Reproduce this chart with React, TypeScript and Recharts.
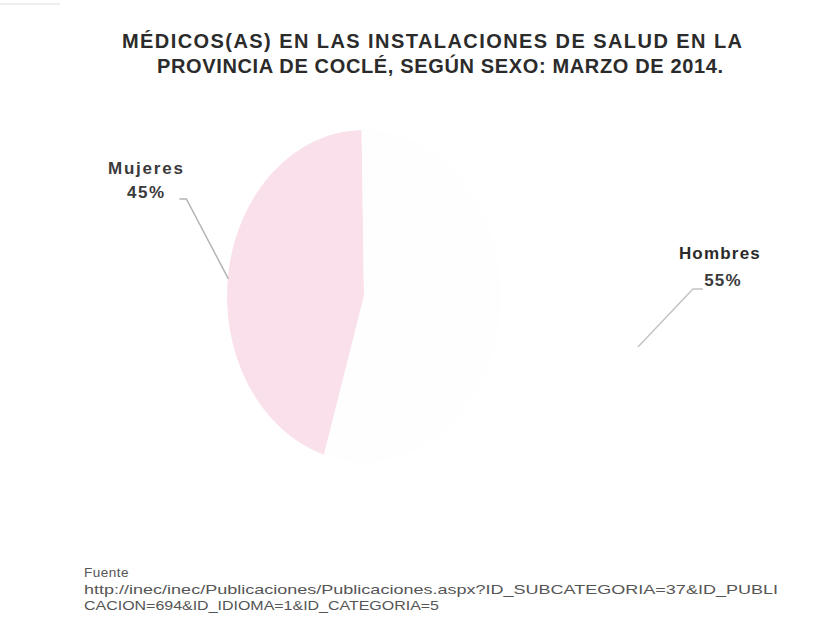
import React from "react";
import { PieChart, Pie, Cell, Sector } from "recharts";

const categories = ["Mujeres", "Hombres"];
const shares = [45, 55];
const sliceColors = ["#f9e0ea", "#fefefe"];

const titleLines = [
  "MÉDICOS(AS) EN LAS INSTALACIONES DE SALUD EN LA",
  "PROVINCIA DE COCLÉ, SEGÚN SEXO: MARZO  DE 2014.",
];
const sourceLines = [
  "Fuente",
  "http://inec/inec/Publicaciones/Publicaciones.aspx?ID_SUBCATEGORIA=37&ID_PUBLI",
  "CACION=694&ID_IDIOMA=1&ID_CATEGORIA=5",
];

const data = categories.map((name, i) => ({ name, value: shares[i] }));

const W = 831;
const H = 635;
const SX = 0.825; // horizontal squash of the pie (ellipse)
const RADIAN = Math.PI / 180;
const FONT = "'Liberation Sans', Arial, sans-serif";

const EllipseSector = (props: any) => {
  const { cx, cy } = props;
  return (
    <g transform={`translate(${cx} ${cy}) scale(${SX} 1) translate(${-cx} ${-cy})`}>
      <Sector {...props} stroke="none" />
    </g>
  );
};

const renderLabel = (props: any) => {
  const { cx, cy, midAngle, outerRadius, name, percent } = props;
  const cos = Math.cos(-midAngle * RADIAN);
  const sin = Math.sin(-midAngle * RADIAN);
  const left = cos < 0;
  const pct = `${Math.round(percent * 100)}%`;
  if (left) {
    const ex = cx + outerRadius * SX * cos;
    const ey = cy + outerRadius * sin + 6;
    const bx = ex - 42;
    const by = ey - 80;
    const tx = bx - 7;
    return (
      <g>
        <polyline points={`${ex},${ey} ${bx},${by} ${tx},${by}`} fill="none" stroke="#b4b4b4" strokeWidth={1.5} />
        <text x={tx - 33} y={by - 25} textAnchor="middle" fontFamily={FONT} fontWeight="bold" fontSize={17} letterSpacing={1.8} fill="#3a3a3a">
          {name}
        </text>
        <text x={tx - 33} y={by - 1} textAnchor="middle" fontFamily={FONT} fontWeight="bold" fontSize={17} letterSpacing={1.5} fill="#3a3a3a">
          {pct}
        </text>
      </g>
    );
  }
  const ex = cx + outerRadius * SX * cos * 2.02;
  const ey = cy + outerRadius * sin * 2.21;
  const bx = ex + 55;
  const by = ey - 58;
  const tx = bx + 10;
  return (
    <g>
      <polyline points={`${ex},${ey} ${bx},${by} ${tx},${by}`} fill="none" stroke="#c4c4c4" strokeWidth={1.5} />
      <text x={bx + 27} y={by - 30} textAnchor="middle" fontFamily={FONT} fontWeight="bold" fontSize={17} letterSpacing={1.2} fill="#2a2a2a">
        {name}
      </text>
      <text x={bx + 30} y={by - 3} textAnchor="middle" fontFamily={FONT} fontWeight="bold" fontSize={17} letterSpacing={1.2} fill="#3a3a3a">
        {pct}
      </text>
    </g>
  );
};

export default function App() {
  return (
    <div style={{ position: "absolute", left: 0, top: 0, width: W, height: H, background: "#ffffff" }}>
      <PieChart width={W} height={H} margin={{ top: 0, right: 0, bottom: 0, left: 0 }}>
        <Pie
          data={data}
          dataKey="value"
          nameKey="name"
          cx={364}
          cy={296}
          outerRadius={166}
          startAngle={91}
          endAngle={451}
          shape={EllipseSector}
          label={renderLabel}
          labelLine={false}
          isAnimationActive={false}
        >
          {data.map((d, i) => (
            <Cell key={d.name} fill={sliceColors[i]} />
          ))}
        </Pie>
      </PieChart>
      <svg width={W} height={H} style={{ position: "absolute", left: 0, top: 0, pointerEvents: "none" }}>
        <line x1={0} y1={4} x2={60} y2={4} stroke="#dddddd" strokeWidth={1} />
        <text x={122} y={48} textLength={620} lengthAdjust="spacing" fontFamily={FONT} fontWeight="bold" fontSize={20} fill="#2b2b2b">
          {titleLines[0]}
        </text>
        <text x={157} y={73} textLength={566} lengthAdjust="spacing" fontFamily={FONT} fontWeight="bold" fontSize={20} fill="#2b2b2b">
          {titleLines[1]}
        </text>
        <text x={84} y={577} fontFamily={FONT} fontSize={13.5} fill="#555555" letterSpacing={0.5}>
          {sourceLines[0]}
        </text>
        <text x={84} y={594} textLength={694} lengthAdjust="spacingAndGlyphs" fontFamily={FONT} fontSize={13.5} fill="#555555">
          {sourceLines[1]}
        </text>
        <text x={84} y={610} textLength={355} lengthAdjust="spacingAndGlyphs" fontFamily={FONT} fontSize={13.5} fill="#555555">
          {sourceLines[2]}
        </text>
      </svg>
    </div>
  );
}
